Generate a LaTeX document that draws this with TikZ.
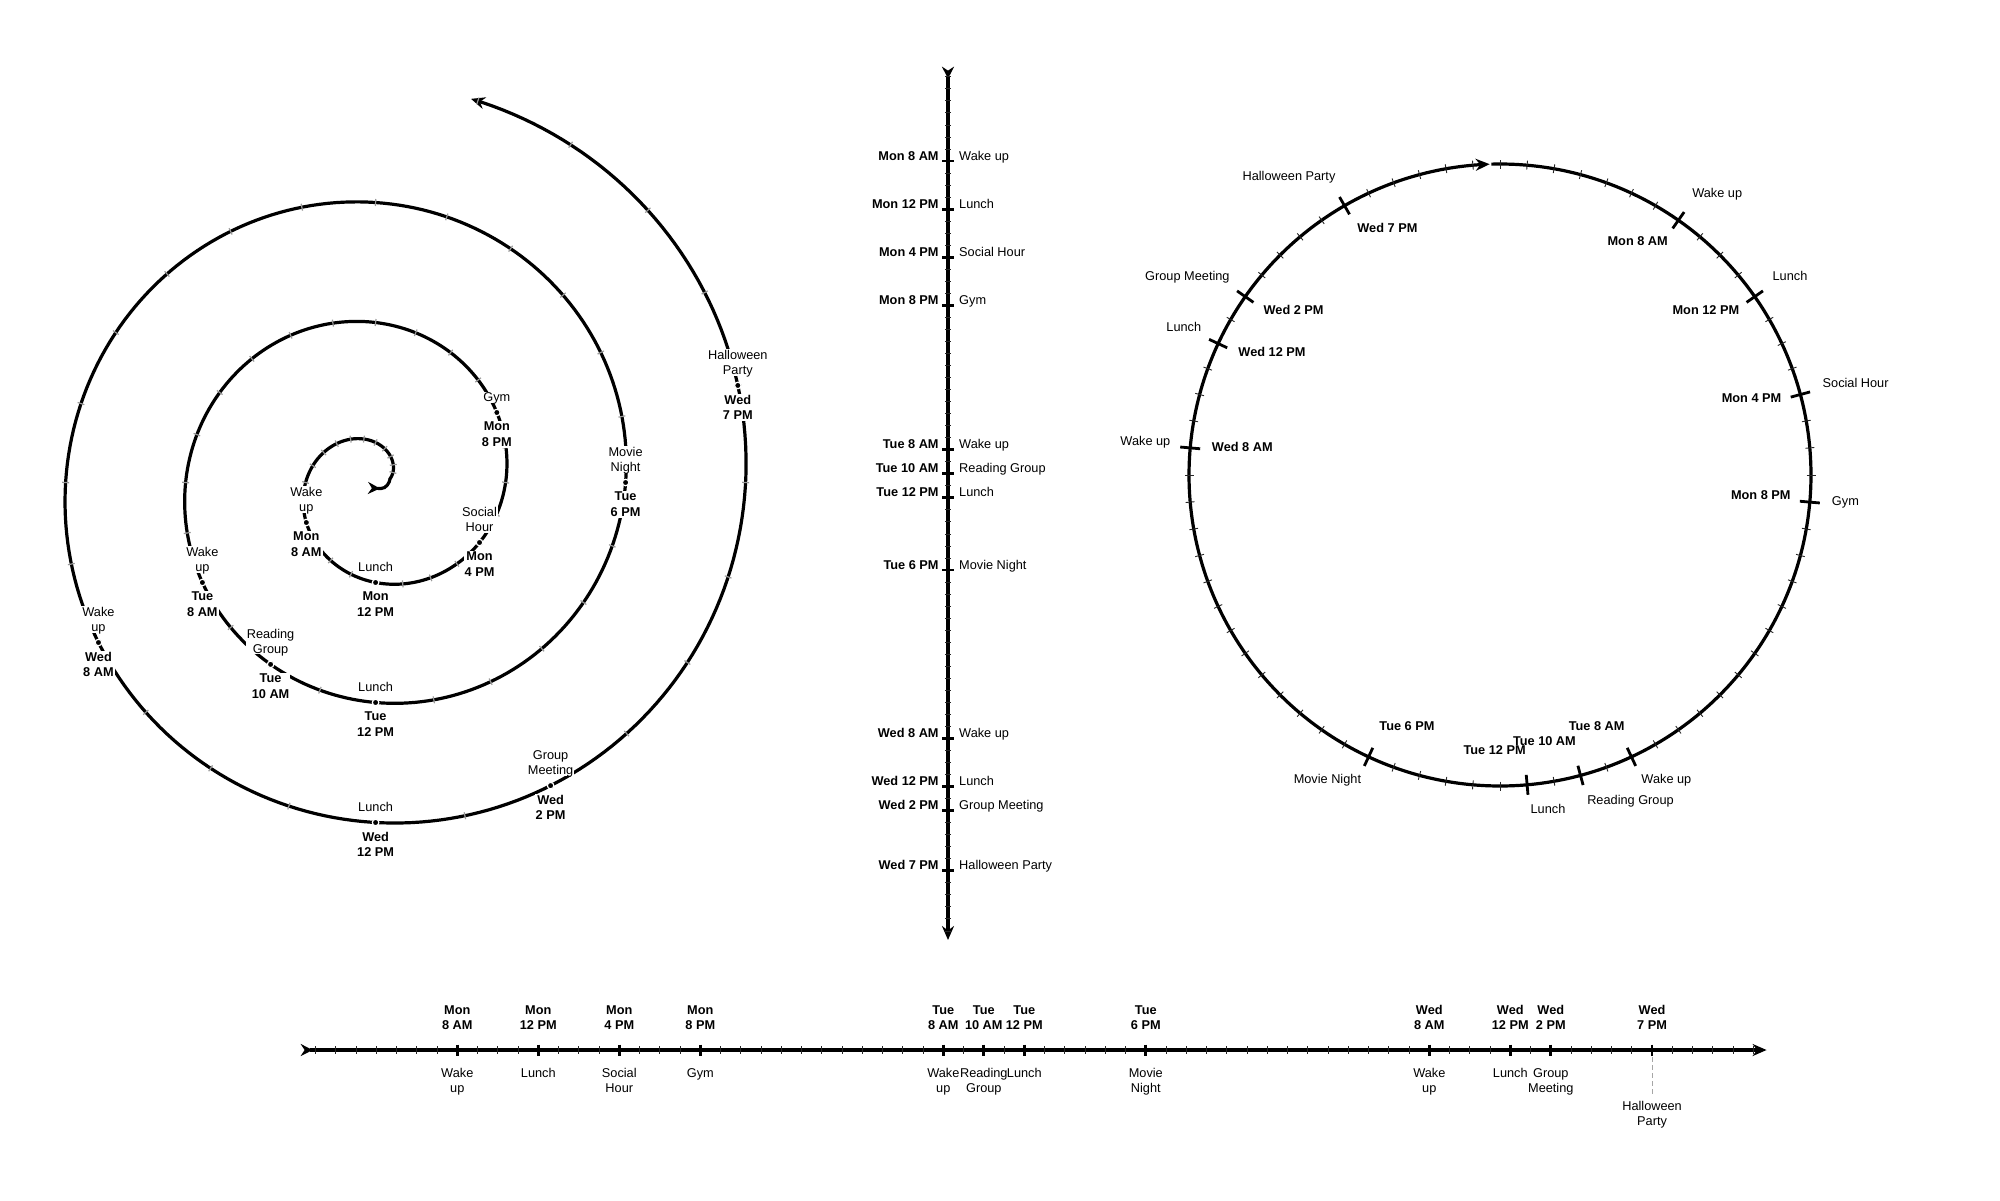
\documentclass[tikz,border=0pt]{standalone}
\usepackage{fontspec}
\setmainfont{Liberation Sans}
\usetikzlibrary{arrows.meta}
\begin{document}
\begin{tikzpicture}[x=1pt,y=-1pt,
  txt/.style={font=\fontsize{12.75}{15.4}\selectfont, inner sep=0pt, align=center},
  txtb/.style={font=\fontsize{12.75}{15.4}\selectfont\bfseries, inner sep=0pt, align=center},
  one/.style={font=\fontsize{12.75}{15.4}\selectfont, inner sep=0pt},
  oneb/.style={font=\fontsize{12.75}{15.4}\selectfont\bfseries, inner sep=0pt},
  mainline/.style={line width=3.2pt},
  tailhead/.style={{Stealth[reversed,length=12pt,width=12pt]}-{Stealth[length=14pt,width=12pt]}},
  minortick/.style={line width=0.9pt, black!85},
  majortick/.style={line width=2.8pt},
  spitick/.style={line width=1.2pt, black!40},
  evdot/.style={circle, fill=black, draw=white, line width=1.2pt, inner sep=0pt, minimum size=6.5pt},
  whitebg/.style={fill=white, inner sep=1pt},
  leaderline/.style={gray!70, line width=1pt, dash pattern=on 5pt off 3pt}
]
\path[use as bounding box] (0,0) rectangle (2000,1200);

% ---------------- spiral ----------------
\coordinate (sps) at (368,488);
\coordinate (spa) at (381,488.5);
\coordinate (spb) at (390.09,478.62);
\draw[mainline, tailhead] (sps) -- (spa) .. controls (386,488.5) and (389.6,483) .. (spb)
  -- plot[domain=-5:71.07, samples=700, variable=\t] ({375.6+(40+5*(\t))*cos(90+15*(\t))}, {482.5-(40+5*(\t))*sin(90+15*(\t))});
\foreach \t in {-4,...,71}{
  \pgfmathsetmacro\r{40+5*(\t)}
  \pgfmathsetmacro\th{90+15*(\t)}
  \pgfmathsetmacro\ph{\th-atan(5/(\r*0.261799))}
  \pgfmathsetmacro\px{375.6+\r*cos(\th)}
  \pgfmathsetmacro\py{482.5-\r*sin(\th)}
  \draw[spitick] ({\px-3.5*cos(\ph)},{\py+3.5*sin(\ph)}) -- ({\px+3.5*cos(\ph)},{\py-3.5*sin(\ph)});
}
\foreach \t/\e/\d [count=\n] in {8/Wake\\up/Mon\\8 AM, 12/Lunch/Mon\\12 PM, 16/Social\\Hour/Mon\\4 PM, 20/Gym/Mon\\8 PM,
  32/Wake\\up/Tue\\8 AM, 34/Reading\\Group/Tue\\10 AM, 36/Lunch/Tue\\12 PM, 42/Movie\\Night/Tue\\6 PM,
  56/Wake\\up/Wed\\8 AM, 60/Lunch/Wed\\12 PM, 62/Group\\Meeting/Wed\\2 PM, 67/Halloween\\Party/Wed\\7 PM}{
  \pgfmathsetmacro\r{40+5*(\t)}
  \pgfmathsetmacro\th{90+15*(\t)}
  \pgfmathsetmacro\px{375.6+\r*cos(\th)}
  \pgfmathsetmacro\py{482.5-\r*sin(\th)}
  \node[txt, whitebg, anchor=south, text depth=0pt] (spe\n) at (\px,{\py-9.7}) {\e};
  \node[txtb, whitebg, anchor=north] (spd\n) at (\px,{\py+8.5}) {\d};
  \node[evdot] (spp\n) at (\px,\py) {};
}

% ---------------- vertical timeline ----------------
\coordinate (vt) at (948,66.7);
\coordinate (vb) at (948,940);
\draw[mainline, tailhead] (vt) -- (vb);
\foreach \t in {1,...,72}{
  \draw[minortick] (945,{64.8+12.03*\t}) -- (951,{64.8+12.03*\t});
}
\foreach \t/\e/\d [count=\n] in {8/Wake up/Mon 8 AM, 12/Lunch/Mon 12 PM, 16/Social Hour/Mon 4 PM, 20/Gym/Mon 8 PM,
  32/Wake up/Tue 8 AM, 34/Reading Group/Tue 10 AM, 36/Lunch/Tue 12 PM, 42/Movie Night/Tue 6 PM,
  56/Wake up/Wed 8 AM, 60/Lunch/Wed 12 PM, 62/Group Meeting/Wed 2 PM, 67/Halloween Party/Wed 7 PM}{
  \pgfmathsetmacro\yy{64.8+12.03*\t}
  \draw[majortick] (942,\yy) -- (954,\yy);
  \node[oneb, anchor=base east] (vd\n) at (938.8,{\yy-1}) {\d};
  \node[one, anchor=base west] (ve\n) at (959,{\yy-1}) {\e};
}

% ---------------- horizontal timeline ----------------
\coordinate (hl) at (300.7,1050);
\coordinate (hr) at (1766.6,1050);
\draw[mainline, tailhead] (hl) -- (hr);
\foreach \t in {1,...,72}{
  \draw[minortick] ({295.3+20.25*\t},1046) -- ({295.3+20.25*\t},1054);
}
\foreach \t/\e/\d/\yt [count=\n] in {8/Wake\\up/Mon\\8 AM/1068, 12/Lunch/Mon\\12 PM/1068, 16/Social\\Hour/Mon\\4 PM/1068, 20/Gym/Mon\\8 PM/1068,
  32/Wake\\up/Tue\\8 AM/1068, 34/Reading\\Group/Tue\\10 AM/1068, 36/Lunch/Tue\\12 PM/1068, 42/Movie\\Night/Tue\\6 PM/1068,
  56/Wake\\up/Wed\\8 AM/1068, 60/Lunch/Wed\\12 PM/1068, 62/Group\\Meeting/Wed\\2 PM/1068, 67/Halloween\\Party/Wed\\7 PM/1101}{
  \pgfmathsetmacro\xx{295.3+20.25*\t}
  \draw[majortick] (\xx,1044.5) -- (\xx,1055.5);
  \node[txtb, anchor=south, text depth=0pt] (hd\n) at (\xx,1030) {\d};
  \node[txt, anchor=north] (he\n) at (\xx,\yt) {\e};
}
\coordinate (hlt) at (1652.05,1057);
\coordinate (hlb) at (1652.05,1095);
\draw[leaderline] (hlt) -- (hlb);

% ---------------- circle ----------------
\coordinate (cc) at (1500,475);
\draw[mainline, -{Stealth[length=14pt,width=12pt]}] plot[domain=-1.6:358.1, samples=400, variable=\a] ({1500+311*sin(\a)},{475-311*cos(\a)});
\foreach \t in {1,...,72}{
  \pgfmathsetmacro\aa{5*(\t-1)}
  \draw[minortick] ({1500+306.5*sin(\aa)},{475-306.5*cos(\aa)}) -- ({1500+315.5*sin(\aa)},{475-315.5*cos(\aa)});
}
\foreach \t/\e/\ex/\ey/\d/\dx/\dy [count=\n] in {
  8/Wake up/1717.2/192.6/Mon 8 AM/1637.7/241,
  12/Lunch/1790/275.5/Mon 12 PM/1705.9/310,
  16/Social Hour/1855.6/382.7/Mon 4 PM/1751.5/398,
  20/Gym/1845.4/501.3/Mon 8 PM/1760.8/494.9,
  32/Wake up/1666.4/779.3/Tue 8 AM/1596.7/725.8,
  34/Reading Group/1630.5/799.7/Tue 10 AM/1544.4/741,
  36/Lunch/1548/808.7/Tue 12 PM/1494.6/750,
  42/Movie Night/1327.4/779.3/Tue 6 PM/1406.9/725.8,
  56/Wake up/1145.4/441.3/Wed 8 AM/1242.3/446.4,
  60/Lunch/1183.8/326.5/Wed 12 PM/1272/352,
  62/Group Meeting/1187.4/275.5/Wed 2 PM/1293.6/310,
  67/Halloween Party/1289/176/Wed 7 PM/1387.4/228.3}{
  \pgfmathsetmacro\aa{5*(\t-1)}
  \draw[majortick] ({1500+301*sin(\aa)},{475-301*cos(\aa)}) -- ({1500+321*sin(\aa)},{475-321*cos(\aa)});
  \node[one, anchor=base] (ce\n) at (\ex,{\ey+4.6}) {\e};
  \node[oneb, anchor=base] (cd\n) at (\dx,{\dy+4.6}) {\d};
}
\end{tikzpicture}
\end{document}
